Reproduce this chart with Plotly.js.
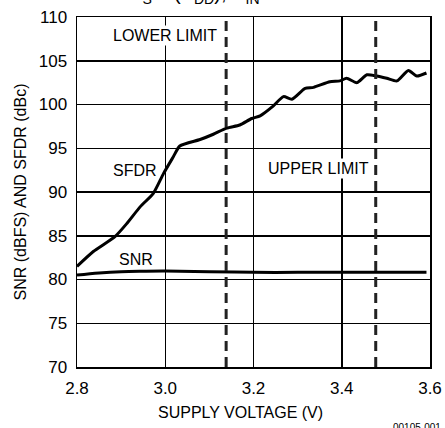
<!DOCTYPE html>
<html>
<head>
<meta charset="utf-8">
<script src="https://cdn.plot.ly/plotly-3.0.1.min.js"></script>
<style>html,body{margin:0;padding:0;background:#fff;}</style>
</head>
<body>
<div id="chart" style="width:445px;height:428px;"></div>
<script>
const sfdrX = [2.800, 2.837, 2.886, 2.913, 2.943, 2.973, 2.996, 3.018, 3.033, 3.079, 3.109, 3.139, 3.169, 3.196, 3.215, 3.243, 3.268, 3.287, 3.317, 3.336, 3.373, 3.396, 3.411, 3.434, 3.457, 3.479, 3.502, 3.525, 3.551, 3.570, 3.592];
const sfdrY = [81.5, 83.2, 84.9, 86.4, 88.3, 89.85, 92.1, 94.0, 95.26, 96.0, 96.6, 97.3, 97.66, 98.4, 98.7, 99.75, 100.9, 100.6, 101.85, 101.96, 102.6, 102.7, 103.0, 102.5, 103.4, 103.26, 103.0, 102.7, 103.9, 103.26, 103.6];
const snrX = [2.800, 2.850, 2.900, 2.950, 3.000, 3.100, 3.200, 3.300, 3.400, 3.500, 3.592];
const snrY = [80.5, 80.75, 80.9, 80.95, 80.97, 80.9, 80.82, 80.82, 80.82, 80.82, 80.82];
const limits = [3.138, 3.477];
const xTicks = [2.8, 3.0, 3.2, 3.4, 3.6];
const xTickText = ['2.8', '3.0', '3.2', '3.4', '3.6'];
const yTicks = [70, 75, 80, 85, 90, 95, 100, 105, 110];
const titleParts = ['f<sub>S</sub>', '(V<sub>DD</sub>),', 'f<sub>IN</sub>'];
const titlePartX = [0.164, 0.348, 0.49];

const FONT = 'Liberation Sans Narrow, Arial Narrow, Liberation Sans, Arial, sans-serif';

const traces = [
  {x: sfdrX, y: sfdrY, mode: 'lines', line: {color: '#000', width: 3, shape: 'spline', smoothing: 0.6}, hoverinfo: 'skip'},
  {x: snrX, y: snrY, mode: 'lines', line: {color: '#000', width: 3, shape: 'spline'}, hoverinfo: 'skip'}
];

const shapes = limits.map(v => ({
  type: 'line', xref: 'x', yref: 'paper', x0: v, x1: v, y0: 0, y1: 1,
  line: {color: '#222', width: 3, dash: '10px,6px'}
}));

const annotations = [
  {x: 3.0, y: 107.9, xref: 'x', yref: 'y', text: 'LOWER LIMIT', showarrow: false, bgcolor: '#fff', font: {family: FONT, size: 16, color: '#000'}},
  {x: 3.348, y: 92.7, xref: 'x', yref: 'y', text: 'UPPER LIMIT', showarrow: false, bgcolor: '#fff', font: {family: FONT, size: 16, color: '#000'}},
  {x: 2.932, y: 92.5, xref: 'x', yref: 'y', text: 'SFDR', showarrow: false, font: {family: FONT, size: 16, color: '#000'}},
  {x: 2.934, y: 82.3, xref: 'x', yref: 'y', text: 'SNR', showarrow: false, font: {family: FONT, size: 16, color: '#000'}},
  {x: 0.462, y: 0, xref: 'paper', yref: 'paper', yanchor: 'middle', yshift: -45, text: 'SUPPLY VOLTAGE (V)', showarrow: false, font: {family: FONT, size: 16, color: '#000'}},
  {x: 1, y: 0, xref: 'paper', yref: 'paper', xanchor: 'right', yanchor: 'top', yshift: -53, xshift: 13, text: '00105-001', showarrow: false, font: {family: FONT, size: 10, color: '#000'}}
].concat(titleParts.map((t, i) => ({
  x: titlePartX[i], y: 1, xref: 'paper', yref: 'paper', yanchor: 'bottom', yshift: 8,
  text: t, showarrow: false, font: {family: FONT, size: 20, color: '#000'}
})));

const layout = {
  width: 445, height: 428,
  margin: {l: 77, r: 15, t: 17, b: 61, pad: 0},
  paper_bgcolor: '#fff', plot_bgcolor: '#fff',
  showlegend: false,
  font: {family: FONT, size: 16, color: '#000'},
  xaxis: {
    range: [2.8, 3.6], tickvals: xTicks, ticktext: xTickText,
    showgrid: true, gridcolor: '#000', gridwidth: 1.5,
    showline: true, linecolor: '#000', linewidth: 1.5, mirror: true,
    zeroline: false, ticks: '', ticklen: 0, ticklabelstandoff: 5,
    tickfont: {family: FONT, size: 17, color: '#000'}
  },
  yaxis: {
    range: [70, 110], tickvals: yTicks,
    showgrid: true, gridcolor: '#000', gridwidth: 1.5,
    showline: true, linecolor: '#000', linewidth: 1.5, mirror: true,
    zeroline: false, ticks: '', ticklen: 0, ticklabelstandoff: 5,
    tickfont: {family: FONT, size: 17, color: '#000'},
    title: {text: 'SNR (dBFS) AND SFDR (dBc)', font: {family: FONT, size: 16, color: '#000'}, standoff: 8}
  },
  shapes: shapes,
  annotations: annotations
};

Plotly.newPlot('chart', traces, layout, {displayModeBar: false, staticPlot: true});
</script>
</body>
</html>
